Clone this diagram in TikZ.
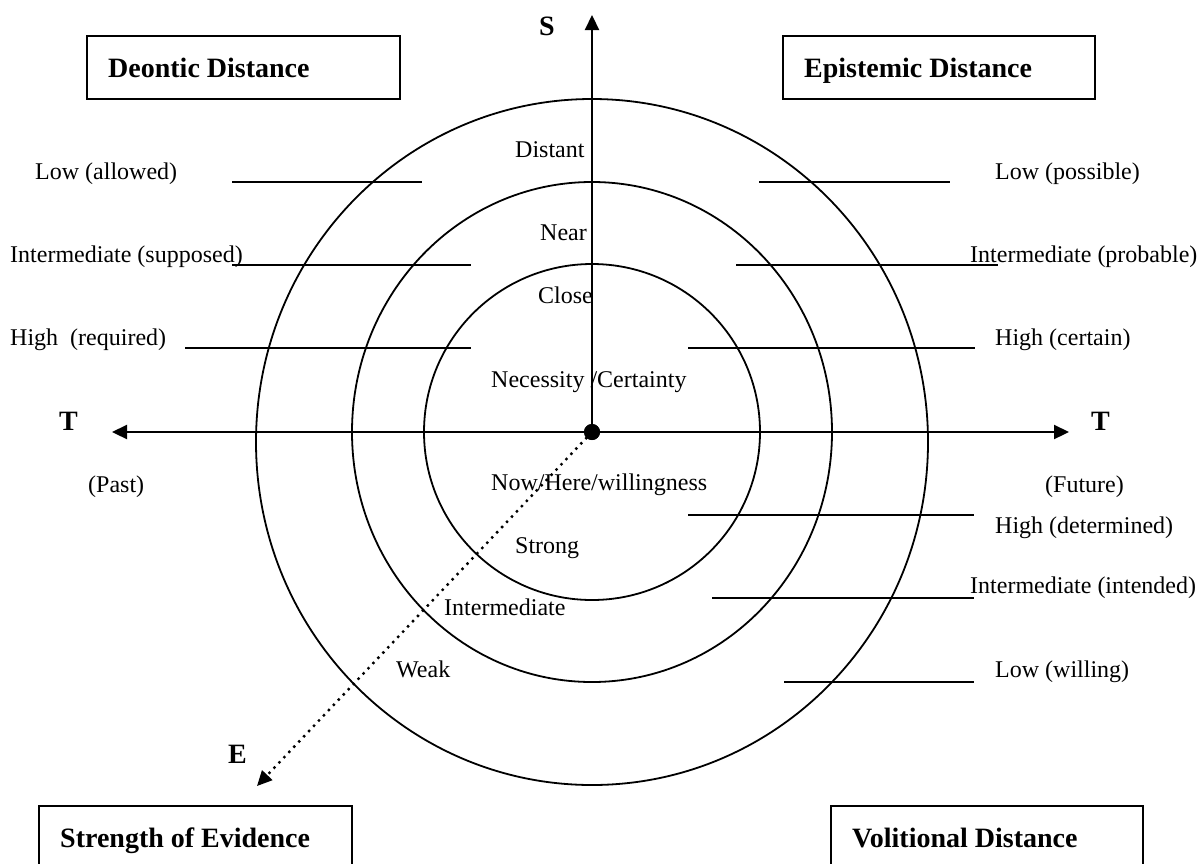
\documentclass[tikz,border=0pt]{standalone}
\usepackage{fontspec}
\setmainfont{Liberation Serif}
\usetikzlibrary{arrows.meta}
\begin{document}
\begin{tikzpicture}[x=1pt,y=-1pt,
  lbl/.style={inner sep=0pt, anchor=base west, font=\fontsize{24}{28}\selectfont},
  ttl/.style={inner sep=0pt, anchor=base west, font=\bfseries\fontsize{28}{32}\selectfont},
  ring/.style={line width=1.8pt},
  tick/.style={line width=2.2pt},
  axis/.style={line width=2.2pt, -{Triangle[length=15pt,width=14pt]}},
  framebox/.style={draw, line width=1.6pt},
  dot/.style={circle, fill=black, inner sep=0pt, minimum size=16pt}]
\clip (0,0) rectangle (1202,863);
\fill[white] (0,0) rectangle (1202,863);

% centre of the concentric rings
\node[dot] (O) at (592,432) {};

% rings
\draw[ring] (O.center) circle[radius=168pt];
\draw[ring] (O.center) ellipse[x radius=240pt, y radius=250pt];
\draw[ring] ([yshift=-10pt]O.center) ellipse[x radius=336pt, y radius=343pt];

% scale ticks, left side
\draw[tick] (232,182) -- (422,182);
\draw[tick] (232,265) -- (471,265);
\draw[tick] (185,348) -- (471,348);
% scale ticks, right side
\draw[tick] (759,182) -- (950,182);
\draw[tick] (736,265) -- (998,265);
\draw[tick] (688,348) -- (975,348);
\draw[tick] (688,515) -- (974,515);
\draw[tick] (712,598) -- (974,598);
\draw[tick] (784,682) -- (974,682);

% axes
\coordinate (Stip) at (592,15);
\coordinate (Tleft) at (112,432);
\coordinate (Tright) at (1069,432);
\coordinate (Etip) at (257,786);
\draw[axis] (O.center) -- (Stip);
\draw[axis] (O.center) -- (Tleft);
\draw[axis] (O.center) -- (Tright);
\draw[line width=2.4pt, dash pattern=on 2.4pt off 4.8pt,
      -{Triangle[length=15pt,width=14pt]}] (O.center) -- (Etip);
\node[dot] (O2) at (O) {};

% axis names
\node[ttl] (sS) at (539,35) {S};
\node[ttl] (sTl) at (59,430) {T};
\node[ttl] (sTr) at (1091,430) {T};
\node[ttl] (sE) at (228,763) {E};
\node[lbl] (past) at (88,492) {(Past)};
\node[lbl] (future) at (1045,492) {(Future)};

% ring labels
\node[lbl] (distant) at (515,157) {Distant};
\node[lbl] (near) at (540,240) {Near};
\node[lbl] (close) at (538,303) {Close};
\node[lbl] (nec) at (491,387) {Necessity /Certainty};
\node[lbl] (now) at (491,490) {Now/Here/willingness};
\node[lbl] (strong) at (515,553) {Strong};
\node[lbl] (inter) at (444,615) {Intermediate};
\node[lbl] (weak) at (396,677) {Weak};

% deontic scale
\node[lbl] (dlow) at (35,179) {Low (allowed)};
\node[lbl] (dmid) at (10,262) {Intermediate (supposed)};
\node[lbl] (dhigh) at (10,345) {High~ (required)};
% epistemic scale
\node[lbl] (elow) at (995,179) {Low (possible)};
\node[lbl] (emid) at (970,262) {Intermediate (probable)};
\node[lbl] (ehigh) at (995,345) {High (certain)};
% volitional scale
\node[lbl] (vhigh) at (995,533) {High (determined)};
\node[lbl] (vmid) at (970,593) {Intermediate (intended)};
\node[lbl] (vlow) at (995,677) {Low (willing)};

% titled frames
\draw[framebox] (87,36) rectangle (400,99);
\node[ttl] (deon) at (108,77) {Deontic Distance};
\draw[framebox] (783,36) rectangle (1095,99);
\node[ttl] (epis) at (804,77) {Epistemic Distance};
\draw[framebox] (39,806) rectangle (352,880);
\node[ttl] (evid) at (60,847) {Strength of Evidence};
\draw[framebox] (831,806) rectangle (1143,880);
\node[ttl] (voli) at (852,847) {Volitional Distance};
\end{tikzpicture}
\end{document}
